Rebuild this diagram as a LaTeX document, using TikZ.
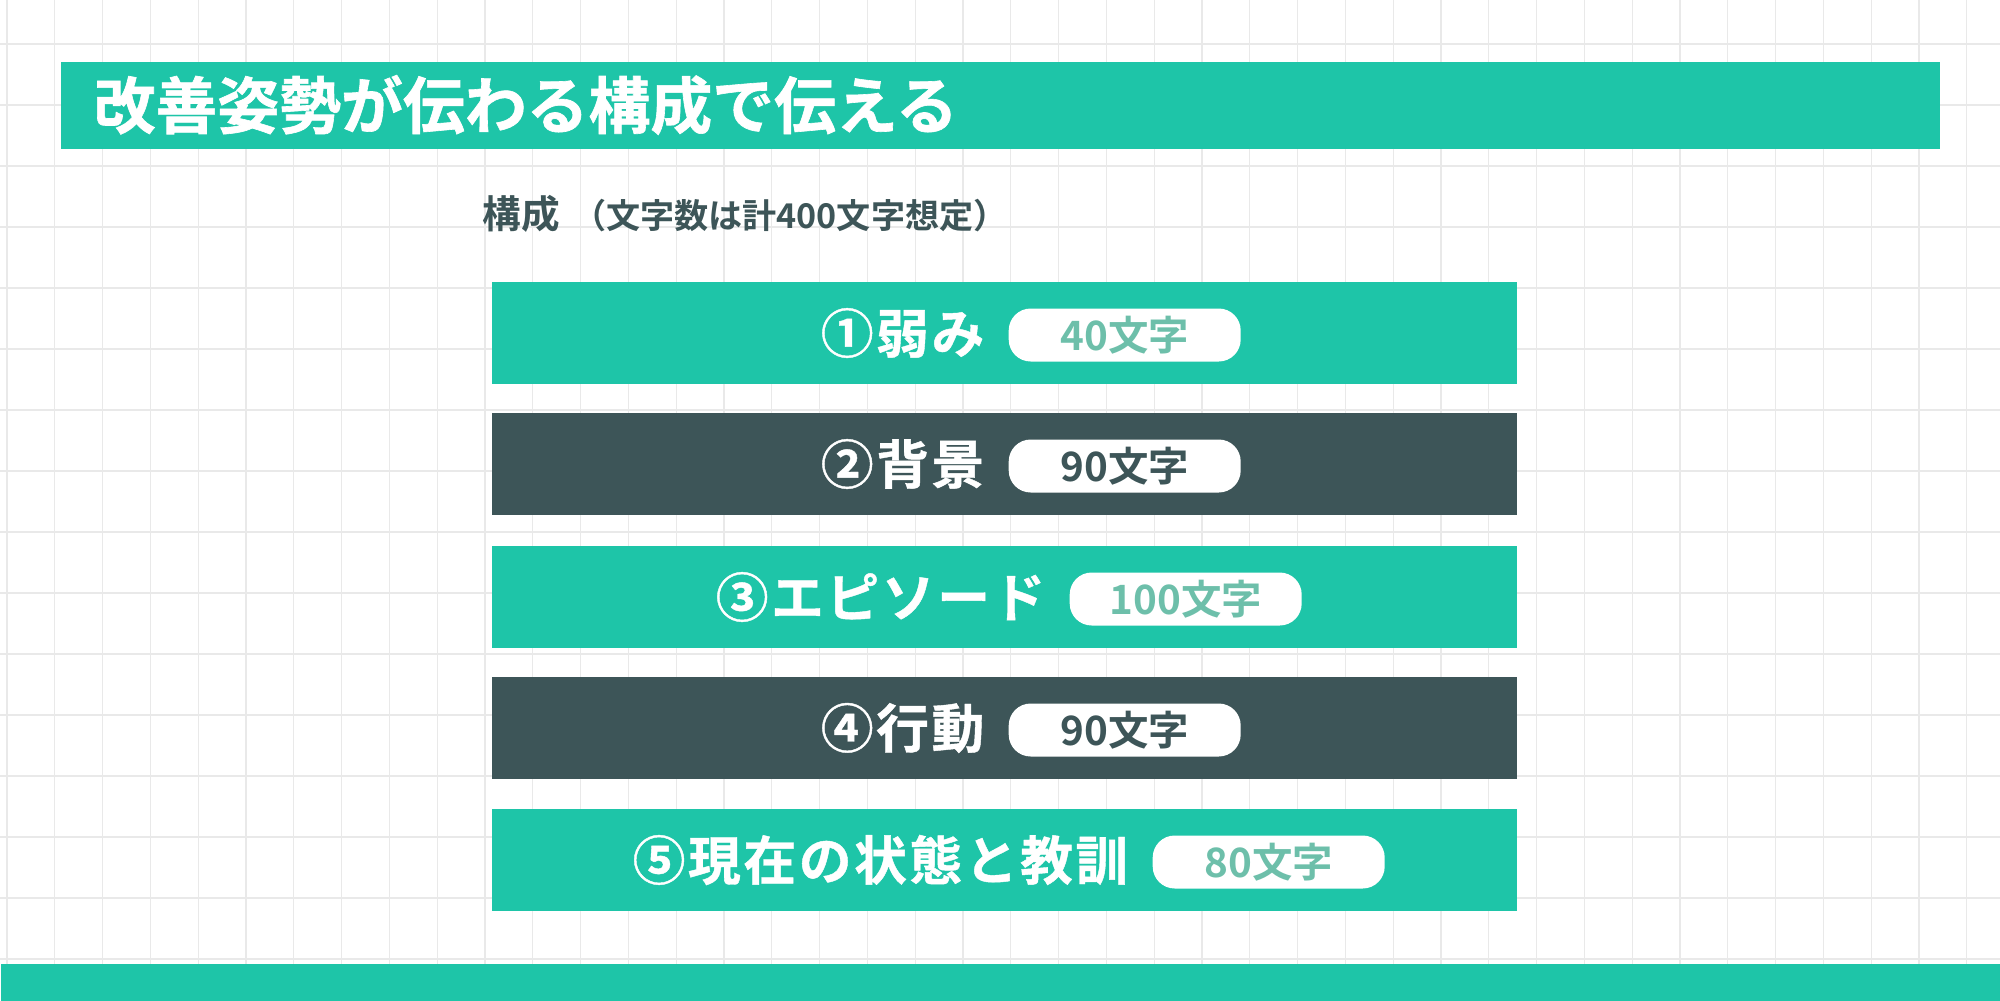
\documentclass[tikz,border=0pt]{standalone}
\usepackage{fontspec}
\setmainfont{Noto Sans CJK JP}[BoldFont={Noto Sans CJK JP Bold}]
\newfontfamily\jpb{Noto Sans CJK JP Bold}
\newfontfamily\jpbh{Noto Sans CJK JP Bold}[FakeBold=1]
\newfontfamily\jpbls{Noto Sans CJK JP Bold}[LetterSpace=5,FakeBold=0.8]
\definecolor{tealmain}{HTML}{1EC5A8}
\definecolor{slate}{HTML}{3D5558}
\definecolor{badgeteal}{HTML}{6DBFAA}
\definecolor{gridc}{HTML}{E9E9E9}
\tikzset{
  gridline/.style={draw=gridc, line width=0.12mm},
  barbox/.style={minimum width=102.5mm, minimum height=10.2mm, inner sep=0, outer sep=0, draw=none},
  lbl/.style={text=white, font=\jpbls\fontsize{15pt}{15pt}\selectfont, inner sep=0, anchor=east},
  badge/.style={fill=white, rounded corners=2.2mm, minimum width=23.2mm, minimum height=5.3mm, inner sep=0, anchor=west, font=\jpb\fontsize{11.5pt}{11.5pt}\selectfont}
}
\begin{document}
\begin{tikzpicture}[x=0.1mm,y=-0.1mm]
\useasboundingbox (0,0) rectangle (2000,1000);
\fill[white] (0,0) rectangle (2000,1000);
% grid background
\foreach \i in {0,...,42} \draw[gridline] ({7+47.8*\i},0) -- ++(0,1000);
\foreach \j in {0,...,16} \draw[gridline] (0,{44+61*\j}) -- ++(2000,0);
% title
\node[fill=tealmain, minimum width=187.9mm, minimum height=8.7mm, inner sep=0, anchor=north west] (titlebar) at (60,61) {};
\node[text=white, font=\jpbh\fontsize{17.6pt}{17.6pt}\selectfont, inner sep=0, anchor=west] (titletext) at (93,105) {改善姿勢が伝わる構成で伝える};
% subtitle
\node[text=slate, inner sep=0, anchor=west] (subtitle) at (482,214) {{\jpb\fontsize{11pt}{11pt}\selectfont 構成}\hspace{1.2mm}{\jpb\fontsize{9.7pt}{9.7pt}\selectfont （文字数は計400文字想定）}};
% bars
\node[barbox, fill=tealmain, anchor=north west] (bar1) at (492,282) {};
\node[barbox, fill=slate, anchor=north west] (bar2) at (492,413) {};
\node[barbox, fill=tealmain, anchor=north west] (bar3) at (492,546) {};
\node[barbox, fill=slate, anchor=north west] (bar4) at (492,677) {};
\node[barbox, fill=tealmain, anchor=north west] (bar5) at (492,809) {};
% labels
\node[lbl] (l1) at (985,333) {①弱み};
\node[lbl] (l2) at (985,464) {②背景};
\node[lbl] (l3) at (1046,597) {③エピソード};
\node[lbl] (l4) at (985,728) {④行動};
\node[lbl] (l5) at (1129,860) {⑤現在の状態と教訓};
% badges
\node[badge, text=badgeteal] (b1) at (1008,335) {40文字};
\node[badge, text=slate] (b2) at (1008,466) {90文字};
\node[badge, text=badgeteal] (b3) at (1069,599) {100文字};
\node[badge, text=slate] (b4) at (1008,730) {90文字};
\node[badge, text=badgeteal] (b5) at (1152,862) {80文字};
% bottom band
\node[fill=tealmain, minimum width=200mm, minimum height=3.7mm, inner sep=0, anchor=north west] (bottombar) at (0,963) {};
\end{tikzpicture}
\end{document}
